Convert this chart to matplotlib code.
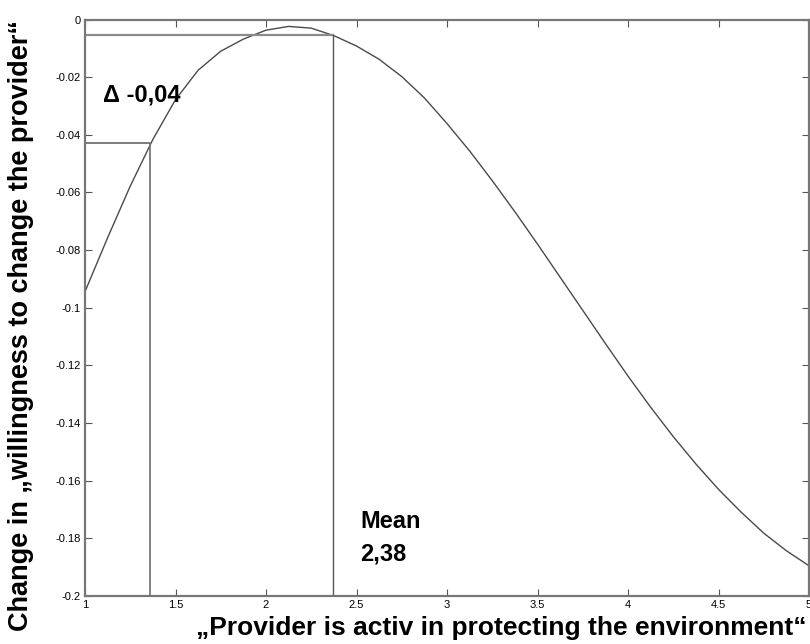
import matplotlib

matplotlib.use("Agg")
import matplotlib.pyplot as plt
from matplotlib.ticker import FixedLocator, FixedFormatter

# curve
curve_x = [1.0, 1.125, 1.25, 1.375, 1.5, 1.625, 1.75, 1.875, 2.0, 2.125,
           2.25, 2.375, 2.5, 2.625, 2.75, 2.875, 3.0, 3.125, 3.25, 3.375,
           3.5, 3.625, 3.75, 3.875, 4.0, 4.125, 4.25, 4.375, 4.5, 4.625,
           4.75, 4.875, 5.0]
curve_y = [-0.0944, -0.0757, -0.0578, -0.0416, -0.0278, -0.0176, -0.0110, -0.0068, -0.0037, -0.0024,
           -0.0030, -0.0056, -0.0092, -0.0138, -0.0198, -0.0272, -0.0361, -0.0456, -0.0559, -0.0667,
           -0.0779, -0.0894, -0.1009, -0.1124, -0.1237, -0.1345, -0.1447, -0.1542, -0.1630, -0.1709,
           -0.1782, -0.1843, -0.1895]

# guide lines: mean of the predictor and the lower comparison point
mean_x, mean_y = 2.368, -0.0055
low_x, low_y = 1.361, -0.0429

x_ticks = [1, 1.5, 2, 2.5, 3, 3.5, 4, 4.5, 5]
x_tick_labels = ["1", "1.5", "2", "2.5", "3", "3.5", "4", "4.5", "5"]
y_ticks = [0, -0.02, -0.04, -0.06, -0.08, -0.1, -0.12, -0.14, -0.16, -0.18, -0.2]
y_tick_labels = ["0", "-0.02", "-0.04", "-0.06", "-0.08", "-0.1", "-0.12", "-0.14", "-0.16", "-0.18", "-0.2"]

plt.rcParams["font.family"] = ["Liberation Sans", "DejaVu Sans"]

fig = plt.figure(figsize=(8.1, 6.44), dpi=100)
ax = fig.add_axes([85 / 810, 48 / 644, 724 / 810, 576.5 / 644])

ax.plot(curve_x, curve_y, color="#4a4a4a", linewidth=1.0)

# reference lines
ax.plot([1, mean_x], [mean_y, mean_y], color="#8a8a8a", linewidth=1.6)
ax.plot([mean_x, mean_x], [-0.2, mean_y], color="#555555", linewidth=1.0)
ax.plot([1, low_x], [low_y, low_y], color="#666666", linewidth=1.2)
ax.plot([low_x, low_x], [-0.2, low_y], color="#777777", linewidth=1.3)

ax.set_xlim(1, 5)
ax.set_ylim(-0.2, 0)
ax.xaxis.set_major_locator(FixedLocator(x_ticks))
ax.xaxis.set_major_formatter(FixedFormatter(x_tick_labels))
ax.yaxis.set_major_locator(FixedLocator(y_ticks))
ax.yaxis.set_major_formatter(FixedFormatter(y_tick_labels))
ax.tick_params(direction="in", length=5, width=0.8, color="#555555",
               top=True, right=True, labelsize=8, pad=3)
for spine in ax.spines.values():
    spine.set_color("#777777")
    spine.set_linewidth(1.6)

ax.text(1.10, -0.0262, "\u0394 -0,04", fontsize=17, fontweight="bold",
        ha="left", va="center")
ax.text(2.52, -0.1742, "Mean", fontsize=17, fontweight="bold",
        ha="left", va="center")
ax.text(2.52, -0.1855, "2,38", fontsize=17, fontweight="bold",
        ha="left", va="center")

ax.set_ylabel("Change in \u201ewillingness to change the provider\u201c",
              fontsize=19.5, fontweight="bold")
ax.yaxis.set_label_coords(-0.088, 0.47)
ax.yaxis.label.set_va("center")
ax.set_xlabel("\u201eProvider is activ in protecting the environment\u201c",
              fontsize=19, fontweight="bold")
ax.xaxis.set_label_coords(0.575, -0.0555)
ax.xaxis.label.set_va("center")

fig.savefig("out.png", dpi=100)
